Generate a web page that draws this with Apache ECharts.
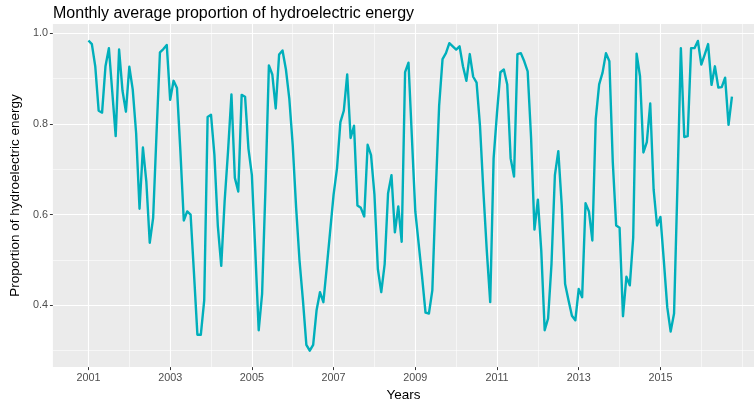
<!DOCTYPE html>
<html>
<head>
<meta charset="utf-8">
<script src="https://cdn.jsdelivr.net/npm/echarts@6/dist/echarts.min.js"></script>
<style>
html,body{margin:0;padding:0;background:#fff;}
#chart{width:754px;height:407px;}
</style>
</head>
<body>
<div id="chart"></div>
<script>
// Monthly series starting January 2001
var startYear = 2001;
var proportion = [
  0.984,0.976,0.927,0.829,0.825,0.927,0.967,0.870,0.773,0.964,0.873,0.827,
  0.926,0.876,0.780,0.613,0.748,0.673,0.538,0.593,0.780,0.958,0.965,0.974,
  0.853,0.895,0.879,0.740,0.587,0.607,0.600,0.470,0.335,0.335,0.411,0.815,
  0.820,0.731,0.575,0.487,0.630,0.740,0.865,0.681,0.651,0.864,0.860,0.745,
  0.687,0.520,0.345,0.425,0.660,0.929,0.909,0.834,0.953,0.962,0.920,0.855,
  0.753,0.615,0.498,0.411,0.313,0.300,0.313,0.389,0.429,0.407,0.484,0.564,
  0.644,0.702,0.804,0.829,0.909,0.769,0.796,0.620,0.615,0.596,0.754,0.731,
  0.644,0.480,0.429,0.491,0.647,0.687,0.561,0.618,0.540,0.914,0.935,0.770,
  0.607,0.535,0.462,0.384,0.382,0.433,0.650,0.840,0.943,0.956,0.978,0.971,
  0.964,0.971,0.927,0.895,0.954,0.904,0.891,0.796,0.651,0.520,0.407,0.724,
  0.825,0.914,0.920,0.887,0.724,0.684,0.954,0.956,0.938,0.916,0.770,0.567,
  0.633,0.520,0.345,0.371,0.491,0.687,0.740,0.622,0.447,0.411,0.377,0.367,
  0.436,0.418,0.625,0.607,0.543,0.811,0.887,0.913,0.956,0.938,0.716,0.576,
  0.571,0.376,0.463,0.444,0.549,0.955,0.905,0.737,0.760,0.845,0.655,0.576,
  0.595,0.498,0.396,0.342,0.382,0.665,0.967,0.771,0.773,0.967,0.967,0.983,
  0.931,0.953,0.976,0.886,0.927,0.880,0.881,0.902,0.798,0.860
];
var xMajorTicks = [2001,2003,2005,2007,2009,2011,2013,2015];
var xMinorTicks = [2002,2004,2006,2008,2010,2012,2014,2016,2017];
var yMajorTicks = [0.4,0.6,0.8,1.0];
var yMinorTicks = [0.3,0.5,0.7,0.9];

var seriesData = proportion.map(function(v,i){ return [startYear + i/12, v]; });

var grid = [];
xMinorTicks.forEach(function(t){ grid.push({xAxis:t, lineStyle:{color:'#fff', width:0.55, type:'solid'}}); });
yMinorTicks.forEach(function(t){ grid.push({yAxis:t, lineStyle:{color:'#fff', width:0.55, type:'solid'}}); });
xMajorTicks.forEach(function(t){ grid.push({xAxis:t, lineStyle:{color:'#fff', width:1.1, type:'solid'}}); });
yMajorTicks.forEach(function(t){ grid.push({yAxis:t, lineStyle:{color:'#fff', width:1.1, type:'solid'}}); });

var chart = echarts.init(document.getElementById('chart'), null, {renderer:'canvas'});
var font = 'Liberation Sans, Arial, Helvetica, sans-serif';
chart.setOption({
  animation:false,
  backgroundColor:'#ffffff',
  title:{
    text:'Monthly average proportion of hydroelectric energy',
    left:48, top:1,
    textStyle:{fontFamily:font, fontSize:16, fontWeight:'normal', color:'#000'}
  },
  grid:{left:48.3, right:0, top:24, bottom:36.3, show:true, backgroundColor:'#EBEBEB', borderWidth:0},
  xAxis:{
    type:'value', min:2000.13, max:2017.29,
    name:'Years', nameLocation:'middle', nameGap:20,
    nameTextStyle:{fontFamily:font, fontSize:13.5, color:'#000'},
    axisLine:{show:false},
    axisTick:{show:true, customValues:xMajorTicks, length:3, lineStyle:{color:'#333', width:1}},
    axisLabel:{customValues:xMajorTicks, fontFamily:font, fontSize:10.8, color:'#4D4D4D', margin:5,
      formatter:function(v){return String(Math.round(v));}},
    splitLine:{show:false}
  },
  yAxis:{
    type:'value', min:0.2638, max:1.0203,
    name:'Proportion of hydroelectric energy', nameLocation:'middle', nameGap:29,
    nameTextStyle:{fontFamily:font, fontSize:13.5, color:'#000'},
    axisLine:{show:false},
    axisTick:{show:true, customValues:yMajorTicks, length:3, lineStyle:{color:'#333', width:1}},
    axisLabel:{customValues:yMajorTicks, fontFamily:font, fontSize:10.8, color:'#4D4D4D', margin:5,
      formatter:function(v){return v.toFixed(1);}},
    splitLine:{show:false}
  },
  series:[
    {type:'line', data:[], z:1, silent:true,
     markLine:{silent:true, symbol:['none','none'], label:{show:false}, animation:false, z:1, data:grid}},
    {type:'line', data:seriesData, z:5, showSymbol:false, symbol:'none',
     lineStyle:{color:'#00AFBB', width:2.4, join:'round'}}
  ]
});
</script>
</body>
</html>
